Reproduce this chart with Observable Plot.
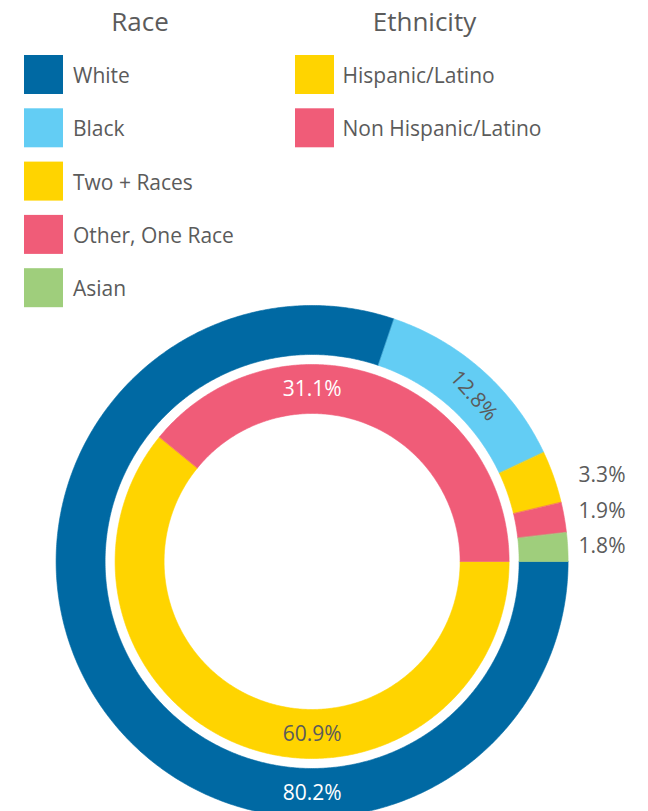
<!DOCTYPE html>
<html>
<head>
<meta charset="utf-8">
<script src="https://cdn.jsdelivr.net/npm/d3@7"></script>
<script src="https://cdn.jsdelivr.net/npm/@observablehq/plot@0.6"></script>
<style>
  html, body { margin: 0; padding: 0; background: #fff; overflow: hidden; }
  #wrap { position: relative; width: 648px; height: 811px; }
  #chart, #legend { position: absolute; left: 0; top: 0; }
  #legend { pointer-events: none; }
  text { font-family: "Open Sans", sans-serif; }
</style>
</head>
<body>
<div id="wrap"><div id="chart"></div><svg id="legend" width="648" height="320"></svg></div>
<script>
// ---- data ----
const raceLabels = ["White", "Black", "Two + Races", "Other, One Race", "Asian"];
const racePercent = [80.2, 12.8, 3.3, 1.9, 1.8];
const raceColors = ["#0069a3", "#63cdf4", "#ffd400", "#f05c78", "#9fce7c"];

const ethnicityLabels = ["Hispanic/Latino", "Non Hispanic/Latino"];
const ethnicityPercent = [60.9, 31.1];
const ethnicityColors = ["#ffd400", "#f05c78"];

// ---- layout ----
const W = 648, H = 811;
const cx = 311.6, cy = 561, R = 256;          // pixel centre / outer radius
const outerRing = [207 / R, 1];               // radii in units of R
const innerRing = [148 / R, 197 / R];
const start = Math.PI / 2;                    // 3 o'clock, clockwise
const textGray = "#5b5b5b";
const fontSize = 21;
const deg = Math.PI / 180;

function segments(names, pcts, colors, ring, ringName) {
  let a = start;
  return pcts.map((p, i) => {
    const a0 = a;
    const a1 = i === pcts.length - 1 ? start + 2 * Math.PI : a + (p / 100) * 2 * Math.PI;
    a = a1;
    return { ring: ringName, name: names[i], pct: p, color: colors[i], a0, a1, r0: ring[0], r1: ring[1] };
  });
}
const outerSegs = segments(raceLabels, racePercent, raceColors, outerRing, "race");
const innerSegs = segments(ethnicityLabels, ethnicityPercent, ethnicityColors, innerRing, "eth");
const allSegs = outerSegs.concat(innerSegs);

// polygon outline of each annular sector
const pts = [];
allSegs.forEach((s, k) => {
  const key = s.ring + k;
  const n = Math.max(2, Math.ceil((s.a1 - s.a0) / (Math.PI / 360)) + 1);
  for (let j = 0; j < n; j++) {
    const a = s.a0 + (s.a1 - s.a0) * j / (n - 1);
    pts.push({ key, color: s.color, x: s.r1 * Math.sin(a), y: s.r1 * Math.cos(a) });
  }
  for (let j = n - 1; j >= 0; j--) {
    const a = s.a0 + (s.a1 - s.a0) * j / (n - 1);
    pts.push({ key, color: s.color, x: s.r0 * Math.sin(a), y: s.r0 * Math.cos(a) });
  }
});

// label placement
const placement = {
  "White": { mode: "at", angle: Math.PI, fill: "#fff" },
  "Black": { mode: "along", shift: 2.5 * deg, tilt: 4, fill: textGray },
  "Two + Races": { mode: "outside" },
  "Other, One Race": { mode: "outside" },
  "Asian": { mode: "outside" },
  "Hispanic/Latino": { mode: "at", angle: Math.PI, fill: textGray },
  "Non Hispanic/Latino": { mode: "at", angle: 2 * Math.PI, fill: "#fff" }
};
const inside = [], outside = [];
allSegs.forEach(s => {
  const pl = placement[s.name];
  const rm = (s.r0 + s.r1) / 2;
  const txt = s.pct.toFixed(1) + "%";
  if (pl.mode === "at") {
    inside.push({ x: rm * Math.sin(pl.angle), y: rm * Math.cos(pl.angle), text: txt, fill: pl.fill, rotate: 0 });
  } else if (pl.mode === "along") {
    const m = (s.a0 + s.a1) / 2 + (pl.shift || 0);
    inside.push({ x: rm * Math.sin(m), y: rm * Math.cos(m), text: txt, fill: pl.fill, rotate: m / deg + (pl.tilt || 0) });
  } else {
    const m = (s.a0 + s.a1) / 2;
    outside.push({ y0: 1.06 * Math.cos(m), text: txt });
  }
});
// stack outside labels evenly around their mean natural position
const gap = 35.5 / R;
const meanY = d3.mean(outside, d => d.y0);
outside.forEach((d, i) => {
  d.x = 266.5 / R;
  d.y = meanY + ((outside.length - 1) / 2 - i) * gap;
});

const chart = Plot.plot({
  width: W,
  height: H,
  margin: 0,
  x: { domain: [-cx / R, (W - cx) / R], axis: null },
  y: { domain: [-(H - cy) / R, cy / R], axis: null },
  color: { type: "identity" },
  marks: [
    Plot.line(pts, { x: "x", y: "y", z: "key", fill: "color", stroke: "color", strokeWidth: 0.6, curve: "linear-closed" }),
    Plot.text(inside, { x: "x", y: "y", text: "text", fill: "fill", rotate: "rotate", fontSize, fontFamily: "Open Sans" }),
    Plot.text(outside, { x: "x", y: "y", text: "text", fill: textGray, fontSize, fontFamily: "Open Sans", textAnchor: "start" })
  ]
});
document.getElementById("chart").append(chart);

// ---- legend ----
const leg = d3.select("#legend");
const groups = [
  { title: "Race", titleX: 140, swX: 24, txX: 73, labels: raceLabels, colors: raceColors },
  { title: "Ethnicity", titleX: 424.5, swX: 295, txX: 342.5, labels: ethnicityLabels, colors: ethnicityColors }
];
const rowTop = 55, rowStep = 53.3, sw = 39;
groups.forEach(g => {
  leg.append("text").attr("x", g.titleX).attr("y", 31).attr("text-anchor", "middle")
    .attr("font-size", 26).attr("fill", textGray).text(g.title);
  g.labels.forEach((l, i) => {
    const t = rowTop + i * rowStep;
    leg.append("rect").attr("x", g.swX).attr("y", t).attr("width", sw).attr("height", sw).attr("fill", g.colors[i]);
    leg.append("text").attr("x", g.txX).attr("y", t + 28).attr("font-size", 21).attr("fill", textGray).text(l);
  });
});
</script>
</body>
</html>
